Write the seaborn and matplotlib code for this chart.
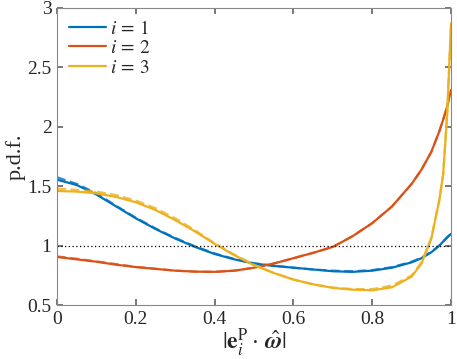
import matplotlib
matplotlib.use("Agg")
import matplotlib.pyplot as plt
import seaborn as sns

# abscissa |e_i^P . omega_hat|
x_vals = [0, .05, .1, .15, .2, .25, .3, .35, .4, .45, .5, .55, .6, .65, .7,
          .75, .8, .85, .9, .925, .95, .97, .98, .99, 1.0]

# solid curves
pdf_1 = [1.555, 1.51, 1.43, 1.33, 1.23, 1.14, 1.06, 0.99, 0.93, 0.885, 0.85,
         0.83, 0.815, 0.80, 0.785, 0.78, 0.79, 0.815, 0.86, 0.895, 0.945,
         1.0, 1.035, 1.07, 1.10]
pdf_2 = [0.905, 0.885, 0.865, 0.84, 0.82, 0.805, 0.79, 0.782, 0.78, 0.79,
         0.815, 0.85, 0.895, 0.94, 0.99, 1.08, 1.19, 1.33, 1.52, 1.64, 1.79,
         1.96, 2.06, 2.17, 2.31]
pdf_3 = [1.46, 1.455, 1.44, 1.41, 1.365, 1.30, 1.215, 1.12, 1.015, 0.92,
         0.835, 0.77, 0.715, 0.675, 0.645, 0.63, 0.625, 0.65, 0.74, 0.85,
         1.06, 1.38, 1.6, 2.1, 2.87]

# dashed curves (second estimate, nearly overlapping)
pdf_1_dash = [1.575, 1.52, 1.44, 1.335, 1.235, 1.145, 1.065, 0.995, 0.935,
              0.888, 0.852, 0.832, 0.815, 0.80, 0.79, 0.785, 0.795, 0.82,
              0.865, 0.90, 0.95, 1.0, 1.035, 1.07, 1.10]
pdf_2_dash = [0.91, 0.89, 0.868, 0.845, 0.822, 0.806, 0.79, 0.782, 0.78,
              0.79, 0.815, 0.85, 0.895, 0.94, 0.99, 1.08, 1.19, 1.33, 1.52,
              1.64, 1.79, 1.96, 2.06, 2.17, 2.31]
pdf_3_dash = [1.48, 1.47, 1.455, 1.425, 1.38, 1.315, 1.23, 1.13, 1.02, 0.925,
              0.84, 0.772, 0.715, 0.675, 0.648, 0.635, 0.635, 0.665, 0.75,
              0.86, 1.07, 1.38, 1.6, 2.1, 2.87]

labels = [r"$i\,=\,1$", r"$i\,=\,2$", r"$i\,=\,3$"]
colors = ["#0072BD", "#D95319", "#EDB120"]

sns.set_theme(style="ticks")
plt.rcParams["font.family"] = ["Liberation Serif", "DejaVu Serif"]
plt.rcParams["mathtext.fontset"] = "stix"
plt.rcParams["xtick.direction"] = "in"
plt.rcParams["ytick.direction"] = "in"

fig = plt.figure(figsize=(4.57, 3.59), dpi=100)
ax = fig.add_axes([0.125, 0.150, 0.862, 0.828])

solid = [pdf_1, pdf_2, pdf_3]
dashed = [pdf_1_dash, pdf_2_dash, pdf_3_dash]
for ys, yd, lab, col in zip(solid, dashed, labels, colors):
    sns.lineplot(x=x_vals, y=yd, ax=ax, color=col, lw=1.6, alpha=0.8,
                 linestyle=(0, (4, 2)))
    sns.lineplot(x=x_vals, y=ys, ax=ax, color=col, lw=1.6, label=lab)

ax.axhline(1, color="black", lw=0.9, linestyle=(0, (1, 2)))

ax.set_xlim(0, 1)
ax.set_ylim(0.5, 3)
ax.set_xticks([0, 0.2, 0.4, 0.6, 0.8, 1])
ax.set_xticklabels(["0", "0.2", "0.4", "0.6", "0.8", "1"])
ax.set_yticks([0.5, 1, 1.5, 2, 2.5, 3])
ax.set_yticklabels(["0.5", "1", "1.5", "2", "2.5", "3"])
ax.tick_params(labelsize=14, top=True, right=True, length=4, color="#666666",
               pad=4)
for s in ax.spines.values():
    s.set_color("#888888")
    s.set_linewidth(0.8)

ax.set_xlabel(r"$|\mathbf{e}_i^{\mathrm{P}}\cdot\,\hat{\boldsymbol{\omega}}|$",
              fontsize=17, labelpad=-1)
ax.set_ylabel("p.d.f.", fontsize=16, labelpad=1)

ax.legend(loc="upper left", frameon=False, fontsize=14, handlelength=1.9,
          handletextpad=0.2, labelspacing=0.1, borderaxespad=0.2)

fig.savefig("out.png", dpi=100)
